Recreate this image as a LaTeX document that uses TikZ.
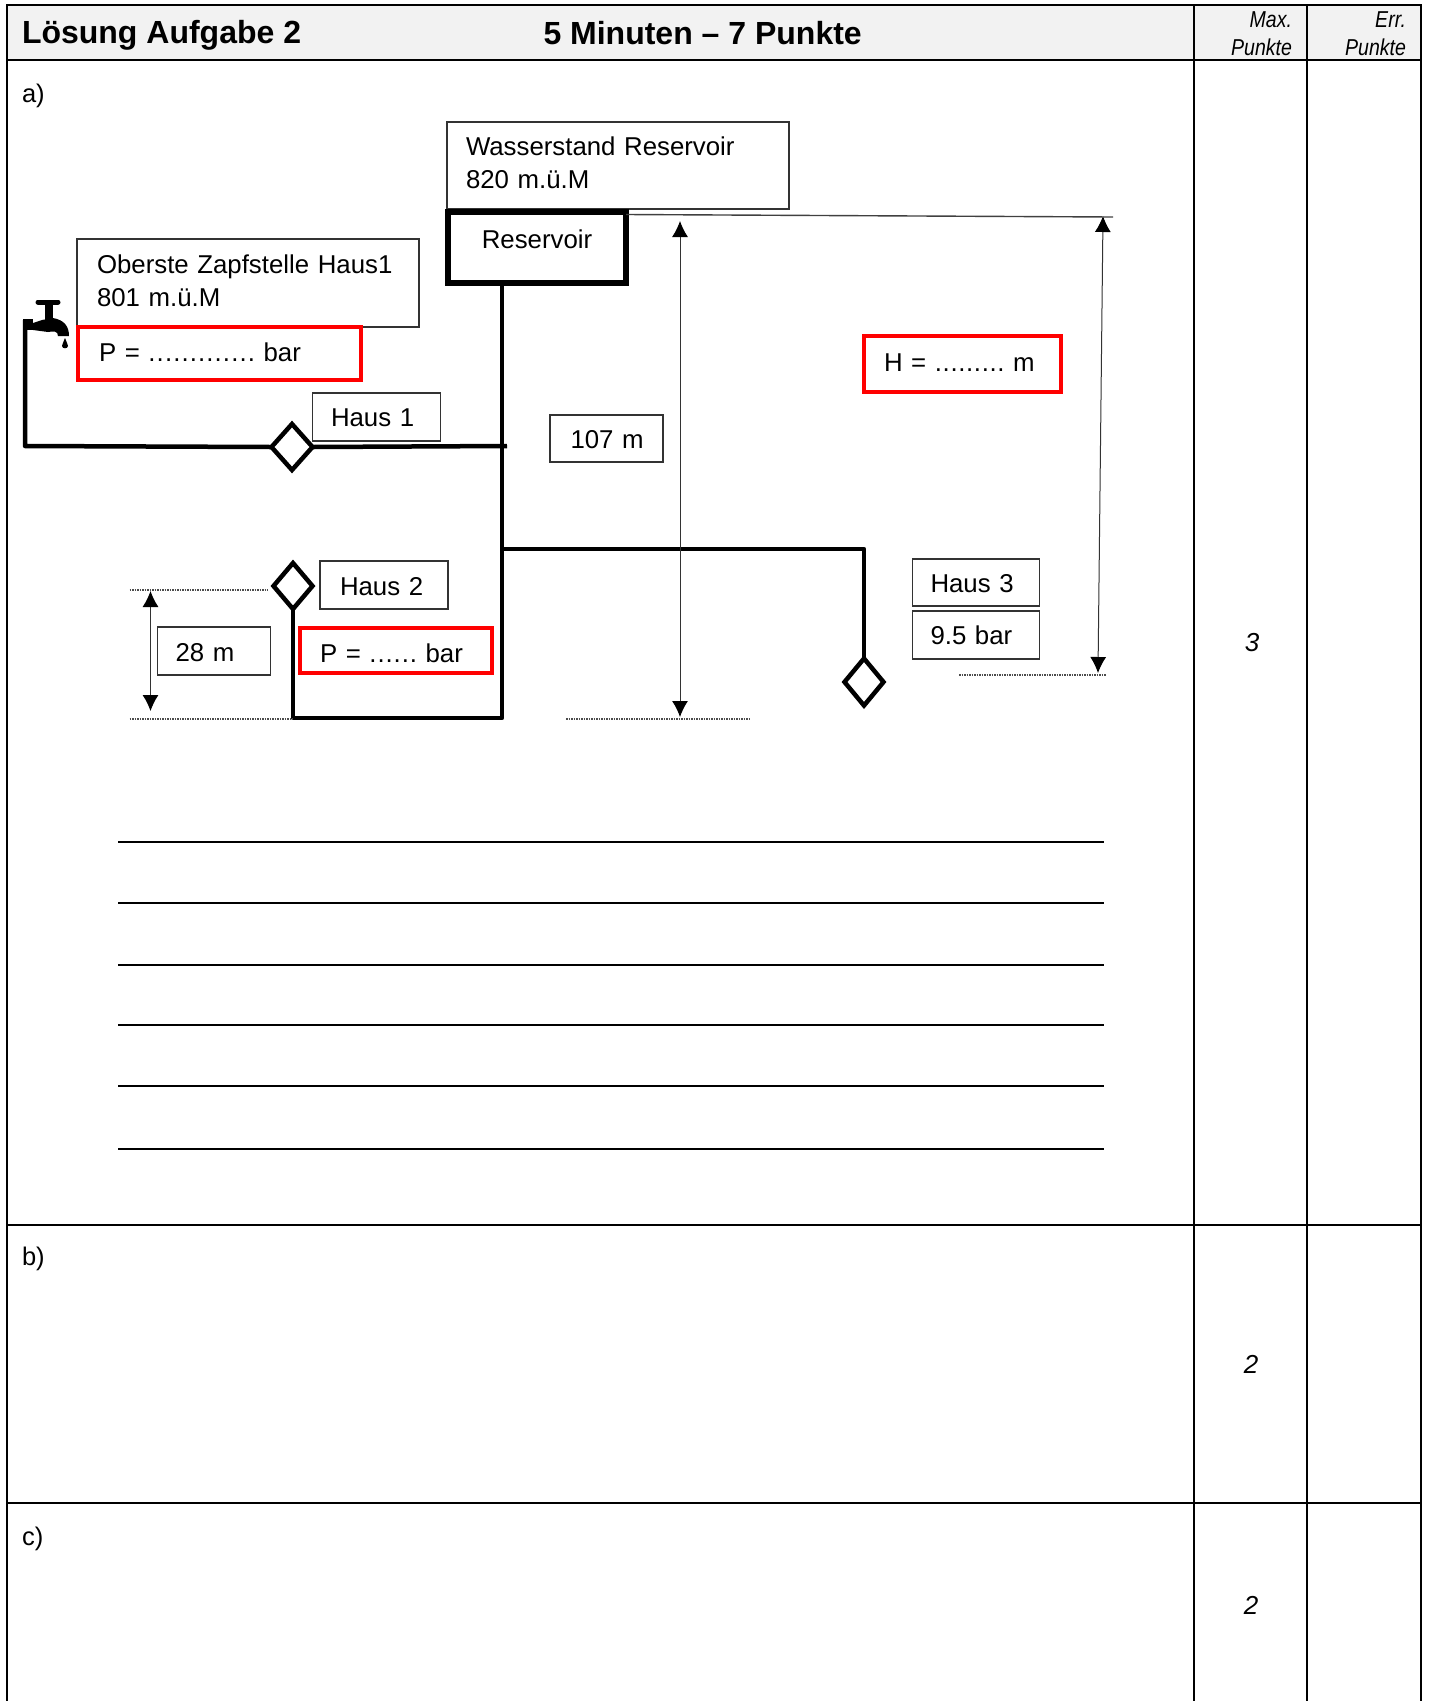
\documentclass[tikz,border=0pt]{standalone}
\usepackage{fontspec}
\setmainfont{Liberation Sans}
\usepackage{graphicx}
\usetikzlibrary{arrows.meta,calc,positioning,shapes.geometric}

\tikzset{
  >={Latex[length=16pt,width=16pt,color=black]},
  txt/.style={inner sep=0pt,outer sep=0pt,anchor=base west,font=\fontsize{25.5}{33}\selectfont},
  labelbox/.style n args={4}{draw=black!80,line width=1.3pt,inner ysep=0pt,outer sep=0pt,
    anchor=north west,align=left,inner xsep=#3,text width=#1-2*#3,minimum height=#2,
    text height=#4,text depth=0pt,font=\fontsize{25.8}{33}\selectfont},
  answerbox/.style n args={4}{labelbox={#1}{#2}{#3}{#4},draw=red,line width=4pt},
  valve/.style={draw,diamond,line width=4.5pt,minimum width=41pt,minimum height=46pt,
    inner sep=0pt,outer sep=0pt,fill=white},
  pipe/.style={line width=4.5pt,line join=round},
  rule/.style={line width=2.2pt},
  level/.style={draw=black!70,line width=1.3pt,dash pattern=on 1.5pt off 1pt},
  measure/.style={<->,line width=1pt,draw=black!80},
  pts/.style={inner sep=0pt,font=\fontsize{26}{30}\itshape},
  colhead/.style={inner sep=0pt,outer sep=0pt,anchor=base east,font=\fontsize{23}{27}\itshape}
}
\newcommand{\thinner}[1]{\scalebox{.85}[1]{#1}}
\newcommand{\fillin}[2]{{\addfontfeatures{LetterSpace=#1}#2}}

\begin{document}
\frenchspacing
\begin{tikzpicture}[x=1pt,y=-1pt]

  \useasboundingbox (0,0) rectangle (1429,1701);

  % table
  \fill [black!5] (7,5) rectangle (1421,60);
  \draw [rule] (7,1701) -- (7,5) -- (1421,5) -- (1421,1701);
  \draw [rule] (7,60) -- (1421,60);
  \draw [rule] (7,1225) -- (1421,1225);
  \draw [rule] (7,1503) -- (1421,1503);
  \draw [rule] (1194,5) -- (1194,1701);
  \draw [rule] (1307,5) -- (1307,1701);

  \node [txt,font=\fontsize{32}{36}\bfseries] (title) at (22,43.5) {Lösung Aufgabe 2};
  \node [txt,font=\fontsize{32}{36}\bfseries] (time) at (543.5,44) {5 Minuten – 7 Punkte};
  \node [colhead] (maxa) at (1292,27) {\thinner{Max.}};
  \node [colhead] (maxb) at (1292,55) {\thinner{Punkte}};
  \node [colhead] (erra) at (1406,27) {\thinner{Err.}};
  \node [colhead] (errb) at (1406,55) {\thinner{Punkte}};

  \node [txt] (parta) at (22,102) {a)};
  \node [txt] (partb) at (22,1265) {b)};
  \node [txt] (partc) at (22,1545) {c)};

  \node [pts] (ptsa) at (1252,643) {3};
  \node [pts] (ptsb) at (1251,1364) {2};
  \node [pts] (ptsc) at (1251,1605) {2};

  % boxes
  \node [labelbox={342pt}{87pt}{19pt}{0pt},text depth=21pt] (level) at (447,122) {Wasserstand Reservoir\\820 m.ü.M};
  \node [labelbox={342pt}{88pt}{20pt}{0pt},text depth=20pt] (tapinfo) at (77,239) {Oberste Zapfstelle Haus1\\801 m.ü.M};
  \node [answerbox={283pt}{53pt}{21pt}{15pt}] (pone) at (78,327) {P = \fillin{4.3}{.............} bar};
  \node [answerbox={197pt}{56pt}{20pt}{14pt}] (hval) at (864,336) {H = \fillin{2.5}{.........} m};
  \node [labelbox={128pt}{48pt}{18.5pt}{19pt}] (hausone) at (312.5,393) {Haus 1};
  \node [labelbox={113pt}{47pt}{20.5pt}{19pt}] (dist) at (550,415) {\mbox{107 m}};
  \node [labelbox={128pt}{48pt}{20pt}{20pt}] (haustwo) at (320,561) {Haus 2};
  \node [labelbox={113pt}{48pt}{18pt}{20pt}] (diff) at (157.5,627) {28 m};
  \node [answerbox={192pt}{45pt}{20pt}{23pt}] (ptwo) at (300,628) {P = \fillin{3.5}{......} bar};
  \node [labelbox={127pt}{47pt}{18pt}{19pt}] (hausthree) at (912.5,559) {Haus 3};
  \node [labelbox={127pt}{48pt}{18pt}{19pt}] (pthree) at (912.5,611) {9.5 bar};

  \node [draw,line width=5.5pt,outer sep=0pt,minimum width=178pt,minimum height=71pt,anchor=north west,
         font=\fontsize{25.8}{33}\selectfont,text depth=17pt,text height=18pt,inner ysep=0pt] (res) at (448,212) {Reservoir};

  % valves
  \node [valve] (vone) at (292,447) {};
  \node [valve,minimum width=39pt] (vtwo) at (293,586) {};
  \node [valve,minimum width=39pt,minimum height=47pt] (vthree) at (864,682) {};

  % pipes
  \coordinate (low) at (502,718);
  \coordinate (tee) at (502,549);
  \coordinate (cross) at (507,446);
  \coordinate (riser) at (25,446);
  \coordinate (tapin) at (25,320);

  \draw [pipe] (res.south -| low) -- (low) -- (low -| vtwo) -- (vtwo.south);
  \draw [pipe] (tee) -- (tee -| vthree) -- (vthree.north);
  \draw [pipe] (tapin) -- (riser) -- (vone.west);
  \draw [pipe] (vone.east) -- (cross);

  % tap
  \fill (23,319) rectangle (33,330);
  \draw [line width=5pt,line cap=round] (38,302) -- (58,302);
  \fill (44.5,304) rectangle (52.5,320);
  \fill (33,323) -- (42,320) -- (53,318) .. controls (64,320) and (69,326) .. (69,336)
        -- (58,336) .. controls (58,331) and (54,331) .. (48,332) -- (33,330) -- cycle;
  \fill (65,338) .. controls (63,343) and (62,345) .. (62,346) .. controls (62,349) and (68,349) .. (68,346)
        .. controls (68,345) and (67,343) .. (65,338) -- cycle;

  % measures
  \coordinate (topa) at (680,221);
  \coordinate (bota) at (680,717);
  \coordinate (topb) at (1103,216);
  \coordinate (botb) at (1098,673);
  \coordinate (topc) at (150.5,591);
  \coordinate (botc) at (150.5,711);

  \draw [measure] (topa) -- (bota);
  \draw [measure] (topb) -- (botb);
  \draw [measure] (topc) -- (botc);

  \coordinate (edge) at (1113,217);
  \draw [line width=1.4pt,black!75] (res.north east |- 0,214.5) -- (edge);

  \coordinate (dota) at (129.5,590);
  \coordinate (dotb) at (268,590);
  \coordinate (dotc) at (129.5,719);
  \coordinate (dotd) at (566,719);
  \coordinate (dote) at (751,719);
  \coordinate (dotf) at (959,675);
  \coordinate (dotg) at (1106,675);

  \draw [level] (dota) -- (dotb);
  \draw [level] (dotc) -- (dotc -| vtwo);
  \draw [level] (dotd) -- (dote);
  \draw [level] (dotf) -- (dotg);

  % answer lines
  \foreach \yy in {842,903,965,1025,1086,1149} {
    \draw [rule] (118,\yy) -- (1104,\yy);
  }

\end{tikzpicture}
\end{document}
